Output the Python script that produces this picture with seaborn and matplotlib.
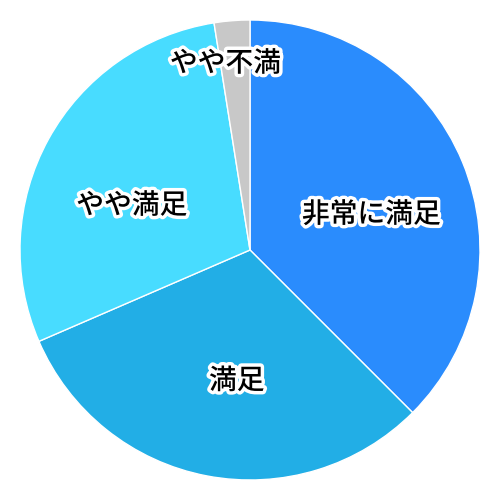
import numpy as np
import matplotlib.pyplot as plt
import matplotlib.patheffects as pe
import seaborn as sns

sns.set_theme(style="white")
plt.rcParams["font.family"] = ["Noto Sans CJK JP", "DejaVu Sans"]

labels = ["非常に満足", "満足", "やや満足", "やや不満"]
shares = [37.5, 31.0, 29.0, 2.5]
colors = ["#2a8cfd", "#22aee6", "#48dcff", "#c8c8c8"]
label_dist = [0.55, 0.57, 0.55, 0.82]
angle_shift = [-6, 5, 8, 3]  # degrees, nudges the label off the wedge middle

fig = plt.figure(figsize=(5, 5), dpi=100)
ax = fig.add_axes([0, 0, 1, 1])
wedges, _ = ax.pie(
    shares,
    colors=colors,
    startangle=90,
    counterclock=False,
    wedgeprops=dict(edgecolor="white", linewidth=1),
)
for w, lab, d, s in zip(wedges, labels, label_dist, angle_shift):
    theta = np.deg2rad((w.theta1 + w.theta2) / 2 + s)
    ax.text(
        d * np.cos(theta), d * np.sin(theta), lab,
        ha="center", va="center", fontsize=20, fontweight="medium", color="black",
        path_effects=[pe.withStroke(linewidth=5, foreground="white")],
    )
lim = 1.087
ax.set_xlim(-lim, lim)
ax.set_ylim(-lim, lim)
ax.set_aspect("equal")
ax.axis("off")
fig.savefig("out.png", dpi=100)
